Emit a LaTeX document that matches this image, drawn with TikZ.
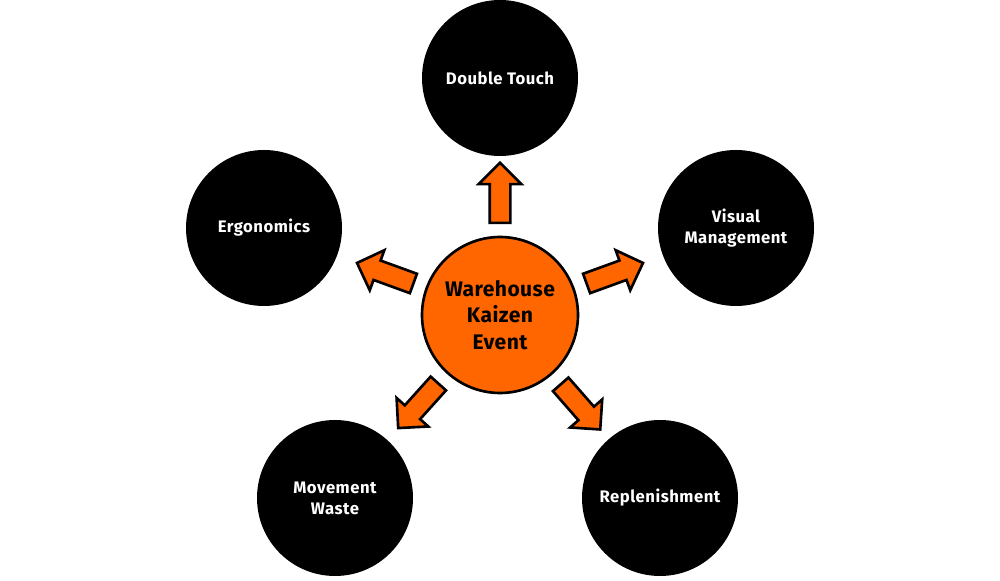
\documentclass[tikz,border=0pt]{standalone}
\usepackage{fontspec}
\setmainfont{Fira Sans}
\usetikzlibrary{shapes.arrows,calc}
\begin{document}
\begin{tikzpicture}
\useasboundingbox (0,0) rectangle (20,11.6);
\tikzset{
 outer/.style={circle,fill=black,minimum size=3.12cm,inner sep=0pt,text=white,align=center,font=\fontsize{9.5}{12}\selectfont\bfseries\addfontfeatures{LetterSpace=3}},
 hub/.style={circle,fill={rgb,255:red,255;green,102;blue,0},draw=black,line width=1.5pt,minimum size=3.12cm,inner sep=0pt,align=center,font=\fontsize{12}{15}\selectfont\bfseries\addfontfeatures{LetterSpace=2}},
 arr/.style={single arrow,fill={rgb,255:red,255;green,102;blue,0},draw=black,line width=1.5pt,inner sep=0.18cm,text height=0pt,text depth=0pt,single arrow head extend=0.22cm,minimum height=1.2cm,single arrow tip angle=90}
}
\node[hub] (c) at (10,5.3) {Warehouse\\Kaizen\\Event};
\node[outer] (dt) at (10,10.04) {Double Touch};
\node[outer] (vm) at (14.72,7.04) {Visual\\Management};
\node[outer] (rp) at (13.2,1.64) {Replenishment};
\node[outer] (mw) at (6.7,1.64) {Movement\\Waste};
\node[outer] (er) at (5.28,7.04) {Ergonomics};
\foreach \a/\n in {90/a1,20/a2,-48.8/a3,-132/a4,160/a5}
  \node[arr,rotate=\a] (\n) at ($(c)+(\a:2.34)$) {};
\end{tikzpicture}
\end{document}
